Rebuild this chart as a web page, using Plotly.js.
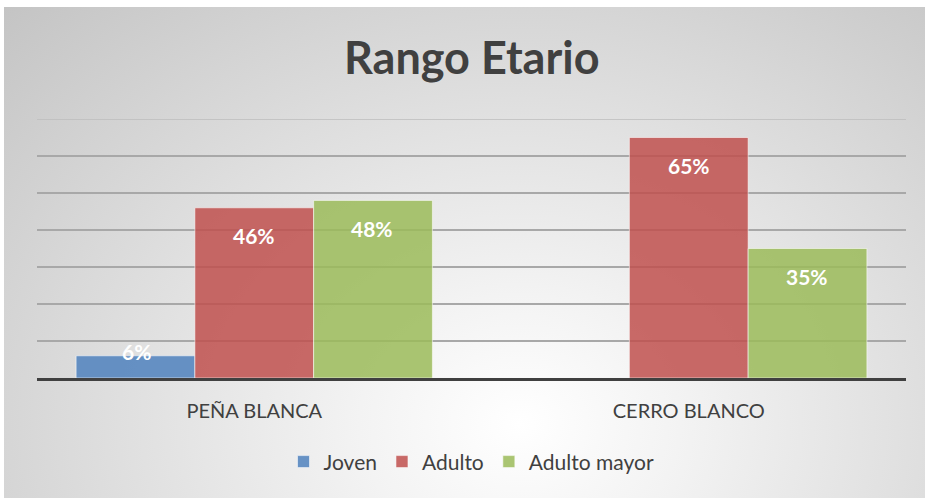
<!DOCTYPE html>
<html>
<head>
<meta charset="utf-8">
<script src="https://cdn.plot.ly/plotly-3.0.1.min.js"></script>
<style>
  html, body { margin: 0; padding: 0; background: #ffffff; }
  #bg { position: absolute; left: 4px; top: 7px; width: 921px; height: 491px;
        background: radial-gradient(ellipse farthest-corner at 56% 85%, #ffffff 0%, #f3f3f3 22%, #dcdcdc 60%, #c4c4c4 100%); }
  #chart { position: absolute; left: 0; top: 0; width: 925px; height: 498px; }
</style>
</head>
<body>
<div id="bg"></div>
<div id="chart"></div>
<script>
const categories = ["PEÑA BLANCA", "CERRO BLANCO"];
const seriesNames = ["Joven", "Adulto", "Adulto mayor"];
const joven = [6, null];
const adulto = [46, 65];
const adultoMayor = [48, 35];
const colors = ["rgba(79,129,189,0.85)", "rgba(192,80,77,0.85)", "rgba(155,187,89,0.85)"];

const values = [joven, adulto, adultoMayor];
const traces = values.map((v, i) => ({
  type: "bar",
  name: seriesNames[i],
  x: categories,
  y: v,
  marker: { color: colors[i], line: { color: "rgba(255,255,255,0.55)", width: 1 } },
  hoverinfo: "skip"
}));

const yMax = 70;
const plotH = 498 - 119 - 120;
const pxPerUnit = plotH / yMax;
const barPx = 118;
const annotations = [];
values.forEach((v, i) => {
  v.forEach((val, j) => {
    if (val === null) return;
    const h = val * pxPerUnit;
    annotations.push({
      x: categories[j], y: val, xref: "x", yref: "y",
      text: "<b>" + val + "%</b>",
      showarrow: false,
      xshift: (i - 1) * barPx,
      yanchor: "middle",
      yshift: h > 50 ? -28 : 4,
      font: { family: "Lato, 'Open Sans', sans-serif", size: 21, color: "#ffffff" }
    });
  });
});

const layout = {
  width: 925, height: 498,
  paper_bgcolor: "rgba(0,0,0,0)",
  plot_bgcolor: "rgba(0,0,0,0)",
  margin: { l: 37, r: 19, t: 119, b: 120 },
  title: { text: "<b>Rango Etario</b>", x: 0.51, xanchor: "center", y: 0.883, yanchor: "middle",
           font: { family: "Lato, 'Open Sans', sans-serif", size: 45, color: "#404040" } },
  barmode: "group",
  bargap: 0.18,
  bargroupgap: 0.0,
  showlegend: true,
  legend: { orientation: "h", x: 0.5, xanchor: "center", y: -0.245, yanchor: "top",
            font: { family: "Lato, 'Open Sans', sans-serif", size: 21, color: "#404040" },
            bgcolor: "rgba(255,255,255,0)", itemwidth: 30, traceorder: "normal" },
  xaxis: { showline: true, linecolor: "#404040", linewidth: 3, ticks: "", showgrid: false,
           tickfont: { family: "Lato, 'Open Sans', sans-serif", size: 20, color: "#404040" },
           ticklabelstandoff: 13, fixedrange: true },
  yaxis: { range: [0, yMax], dtick: 10, showgrid: true, gridcolor: "#a8a8a8", gridwidth: 1.3,
           showticklabels: false, zeroline: false, fixedrange: true },
  shapes: [{ type: "line", xref: "paper", x0: 0, x1: 1, yref: "y", y0: yMax, y1: yMax,
             line: { color: "#bdbdbd", width: 1.3 }, layer: "below" }],
  annotations: annotations
};

Plotly.newPlot("chart", traces, layout, { displayModeBar: false, staticPlot: true });
</script>
</body>
</html>
